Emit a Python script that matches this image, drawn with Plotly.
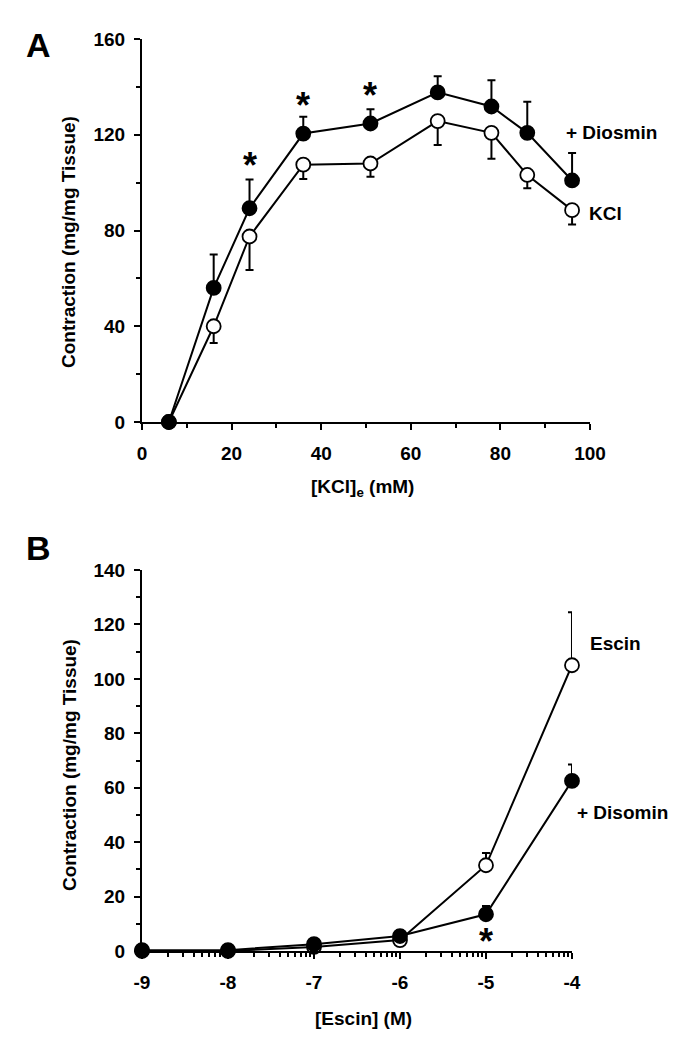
import plotly.graph_objects as go

# ---------------- Data ----------------
# Panel A
kcl_conc = [6, 16, 24, 36, 51, 66, 78, 86, 96]
diosmin_vals = [0, 56, 89.3, 120.5, 124.7, 137.7, 131.8, 120.8, 100.9]
diosmin_err = [0, 14, 12, 7, 6, 6.7, 11, 13, 11.5]
kcl_vals = [0, 40, 77.5, 107.5, 108, 125.7, 120.8, 103.2, 88.5]
kcl_err = [0, 7, 14, 6, 5.5, 10, 10.8, 5.5, 6]
sig_a_x = [24, 36, 51]
sig_a_y = [109, 134, 138]
xticks_a = [0, 20, 40, 60, 80, 100]
yticks_a = [0, 40, 80, 120, 160]

# Panel B
escin_exp = [-9, -8, -7, -6, -5, -4]
escin_vals = [0, 0, 1.5, 4, 31.5, 105]
escin_err = [0, 0, 0, 1, 4.5, 19.5]
disomin_vals = [0.3, 0.3, 2.5, 5.5, 13.5, 62.5]
disomin_err = [0, 0, 0, 2, 3, 6]
sig_b_exp = [-5]
sig_b_y = [5]
xtick_exp_b = [-9, -8, -7, -6, -5, -4]
yticks_b = [0, 20, 40, 60, 80, 100, 120, 140]

# ---------------- Style ----------------
W, H = 685, 1050
OFF = 8  # default page body margin of the html output
FONT = "Liberation Sans, Arial, sans-serif"
BLACK = "#000000"
MS = 14
LW = 2

def px_x(p):
    return (p - OFF) / W

def px_y(p):
    return 1 - (p - OFF) / H

fig = go.Figure()

def add_series(x, y, err_up, err_down, filled, xa, ya):
    fig.add_trace(go.Scatter(
        x=x, y=y, mode="lines+markers", xaxis=xa, yaxis=ya,
        line=dict(color=BLACK, width=LW),
        marker=dict(symbol="circle", size=MS, color=BLACK if filled else "white",
                    line=dict(color=BLACK, width=1.8)),
        error_y=dict(type="data", array=err_up, arrayminus=err_down, symmetric=False,
                     color=BLACK, thickness=2, width=4),
        cliponaxis=False, showlegend=False))

# Panel A
add_series(kcl_conc, kcl_vals, [0] * len(kcl_err), kcl_err, False, "x", "y")
add_series(kcl_conc, diosmin_vals, diosmin_err, [0] * len(diosmin_err), True, "x", "y")
# Panel B
escin_x = [10.0 ** e for e in escin_exp]
add_series(escin_x, escin_vals, escin_err, [0] * len(escin_err), False, "x2", "y2")
add_series(escin_x, disomin_vals, disomin_err, [0] * len(disomin_err), True, "x2", "y2")

tickfont = dict(family=FONT, size=19, color=BLACK, weight="bold")
axis_common = dict(showline=True, linecolor=BLACK, linewidth=2, showgrid=False, zeroline=False,
                   ticks="outside", ticklen=6, tickwidth=2, tickcolor=BLACK, tickfont=tickfont,
                   fixedrange=True, automargin=False)

minor_b = [k * 10.0 ** d for d in xtick_exp_b[:-1] for k in range(2, 10)]

fig.update_layout(
    template="none",
    width=W, height=H, margin=dict(l=0, r=0, t=0, b=0, pad=0),
    paper_bgcolor="white", plot_bgcolor="white",
    xaxis=dict(domain=[px_x(142), px_x(590)], range=[0, 100], anchor="y",
               tickmode="array", tickvals=xticks_a, ticklabelstandoff=7,
               minor=dict(ticks="outside", ticklen=4, tickwidth=2, tickcolor=BLACK, dtick=10, showgrid=False),
               **axis_common),
    yaxis=dict(domain=[px_y(422), px_y(39)], range=[0, 160], anchor="x",
               tickmode="array", tickvals=yticks_a, ticklabelstandoff=5,
               minor=dict(ticks="outside", ticklen=4, tickwidth=2, tickcolor=BLACK, dtick=20, showgrid=False),
               **axis_common),
    xaxis2=dict(domain=[px_x(142), px_x(572)], type="log", range=[-9, -3.9999], anchor="y2",
                tickmode="array", tickvals=[10.0 ** e for e in xtick_exp_b],
                ticktext=[str(e) for e in xtick_exp_b], ticklabelstandoff=7,
                minor=dict(ticks="outside", ticklen=4, tickwidth=1.5, tickcolor=BLACK,
                           tickmode="array", tickvals=minor_b, showgrid=False),
                **axis_common),
    yaxis2=dict(domain=[px_y(951), px_y(570)], range=[0, 140], anchor="x2",
                tickmode="array", tickvals=yticks_b, ticklabelstandoff=5,
                minor=dict(ticks="outside", ticklen=4, tickwidth=2, tickcolor=BLACK, dtick=10, showgrid=False),
                **axis_common),
)

lab = dict(family=FONT, size=19, color=BLACK, weight="bold")
big = dict(family=FONT, size=34, color=BLACK, weight="bold")
ann = []

def paper_text(text, px, py, font, angle=0, xanchor="center"):
    ann.append(dict(text=text, x=px_x(px), y=px_y(py), xref="paper", yref="paper",
                    xanchor=xanchor, yanchor="middle", showarrow=False, textangle=angle, font=font))

# Panel letters
paper_text("A", 38, 45, big)
paper_text("B", 38, 548, big)
# Axis titles
paper_text("Contraction (mg/mg Tissue)", 68, 242, lab, angle=-90)
paper_text("Contraction (mg/mg Tissue)", 69, 765, lab, angle=-90)
paper_text("[KCl]<sub>e</sub> (mM)", 362, 488, lab)
paper_text("[Escin] (M)", 363, 1018, lab)
# Series labels
ann.append(dict(text="+ Diosmin", x=94.2, y=121, xref="x", yref="y", xanchor="left", yanchor="middle",
                showarrow=False, font=lab))
ann.append(dict(text="KCl", x=99.3, y=87, xref="x", yref="y", xanchor="left", yanchor="middle",
                showarrow=False, font=lab))
paper_text("Escin", 588, 643, lab, xanchor="left")
paper_text("+ Disomin", 575, 812, lab, xanchor="left")
# Significance asterisks
star = dict(family=FONT, size=36, color=BLACK, weight="bold")
for sx, sy in zip(sig_a_x, sig_a_y):
    ann.append(dict(text="*", x=sx, y=sy, xref="x", yref="y", xanchor="center", yanchor="middle",
                    showarrow=False, yshift=-4, font=star))
for se, sy in zip(sig_b_exp, sig_b_y):
    ann.append(dict(text="*", x=se, y=sy, xref="x2", yref="y2", xanchor="center", yanchor="middle",
                    showarrow=False, yshift=-4, font=star))

fig.update_layout(annotations=ann)
fig.write_html("out.html")
